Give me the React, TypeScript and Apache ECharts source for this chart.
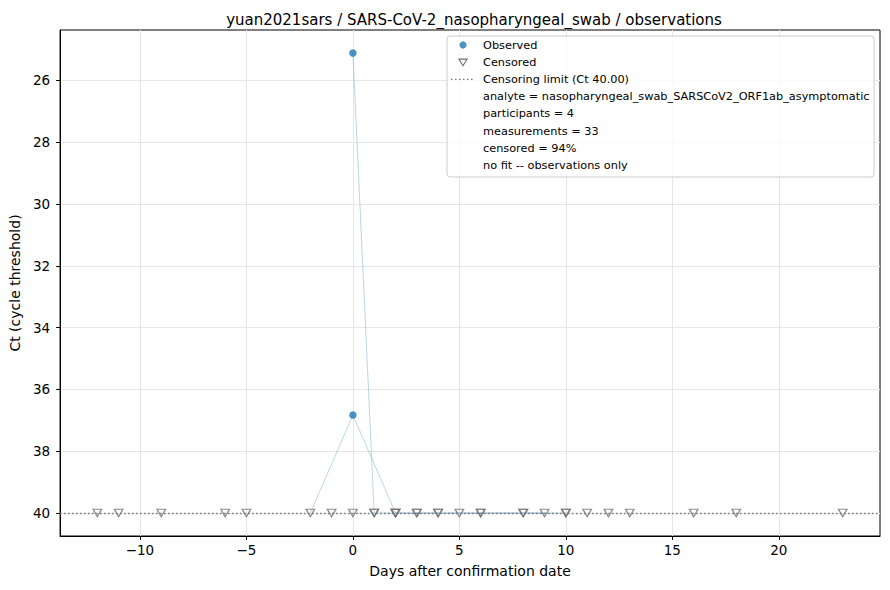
import React, { useEffect, useRef } from "react";
import * as echarts from "echarts";

// ---- data ----
const TITLE = "yuan2021sars / SARS-CoV-2_nasopharyngeal_swab / observations";
const X_LABEL = "Days after confirmation date";
const Y_LABEL = "Ct (cycle threshold)";
const CENSOR_LIMIT = 40;

// participants connected by lines (have at least one observed value)
const p1Days = [0, 1, 2, 4, 6, 8, 10];
const p1Ct = [25.11, 40, 40, 40, 40, 40, 40];
const p1Censored = [false, true, true, true, true, true, true];

const p2Days = [-2, 0, 2, 3, 5, 9];
const p2Ct = [40, 36.83, 40, 40, 40, 40];
const p2Censored = [true, false, true, true, true, true];

// participants with only censored measurements
const p3Days = [-12, -9, -5, -1, 0, 2, 4, 6, 11, 13, 18];
const p4Days = [-11, -6, 1, 3, 8, 10, 12, 16, 23];

const xTicks = [-10, -5, 0, 5, 10, 15, 20];
const yTicks = [26, 28, 30, 32, 34, 36, 38, 40];

const legendLines = [
  "Observed",
  "Censored",
  "Censoring limit (Ct 40.00)",
  "analyte = nasopharyngeal_swab_SARSCoV2_ORF1ab_asymptomatic",
  "participants = 4",
  "measurements = 33",
  "censored = 94%",
  "no fit -- observations only",
];

const FONT = "DejaVu Sans";
const BLUE = "#1f77b4";

export default function App() {
  const ref = useRef<HTMLDivElement>(null);

  useEffect(() => {
    if (!ref.current) return;
    const chart = echarts.init(ref.current, undefined, { renderer: "svg" });

    const lined = [
      { days: p1Days, ct: p1Ct, cens: p1Censored },
      { days: p2Days, ct: p2Ct, cens: p2Censored },
    ];
    const observed: number[][] = [];
    const censored: number[][] = [];
    lined.forEach((p) =>
      p.days.forEach((d, i) => {
        if (p.cens[i]) censored.push([d, p.ct[i]]);
        else observed.push([d, p.ct[i]]);
      })
    );
    [p3Days, p4Days].forEach((arr) => arr.forEach((d) => censored.push([d, CENSOR_LIMIT])));

    const allX = [...observed, ...censored].map((p) => p[0]);
    const allY = [...observed, ...censored].map((p) => p[1]);
    const xMinD = Math.min(...allX), xMaxD = Math.max(...allX);
    const yMinD = Math.min(...allY), yMaxD = Math.max(...allY);
    const xPad = (xMaxD - xMinD) * 0.05;
    const yPad = (yMaxD - yMinD) * 0.05;

    const gridLeft = 58, gridTop = 30, gridRight = 880, gridBottom = 536;

    const lineSeries = lined.map((p, k) => ({
      type: "line",
      name: "p" + (k + 1),
      data: p.days.map((d, i) => [d, p.ct[i]]),
      showSymbol: false,
      symbol: "none",
      lineStyle: { color: BLUE, opacity: 0.3, width: 1 },
      z: 2,
      silent: true,
    }));

    const lx = 447, ly = 36, rowH = 17.2;
    const legendGraphics: any[] = [
      {
        type: "rect",
        shape: { x: lx, y: ly, width: 427, height: 141, r: 3 },
        style: { fill: "rgba(255,255,255,0.8)", stroke: "#cccccc", lineWidth: 1 },
        z: 100,
      },
      {
        type: "circle",
        shape: { cx: 463, cy: ly + 9, r: 3.6 },
        style: { fill: BLUE, opacity: 0.8 },
        z: 101,
      },
      {
        type: "polygon",
        shape: { points: [[459, ly + 9 + rowH - 3], [467, ly + 9 + rowH - 3], [463, ly + 9 + rowH + 3.5]] },
        style: { fill: "none", stroke: "#707070", lineWidth: 1.2 },
        z: 101,
      },
      {
        type: "line",
        shape: { x1: 451, y1: ly + 9 + rowH * 2, x2: 475, y2: ly + 9 + rowH * 2 },
        style: { stroke: "#777777", lineWidth: 1.4, lineDash: [1.5, 2.5] },
        z: 101,
      },
      ...legendLines.map((t, i) => ({
        type: "text",
        x: 483,
        y: ly + 9 + rowH * i,
        style: {
          text: t,
          font: `11.3px "${FONT}"`,
          fill: "#000000",
          textVerticalAlign: "middle",
          verticalAlign: "middle",
        },
        z: 101,
      })),
    ];

    const option: any = {
      animation: false,
      backgroundColor: "#ffffff",
      textStyle: { fontFamily: FONT },
      title: {
        text: TITLE,
        left: (gridLeft + gridRight) / 2,
        top: 7,
        textAlign: "center",
        textStyle: { fontFamily: FONT, fontSize: 15, fontWeight: "normal", color: "#000" },
      },
      grid: {
        left: gridLeft,
        top: gridTop,
        width: gridRight - gridLeft,
        height: gridBottom - gridTop,
        show: true,
        borderColor: "#000",
        borderWidth: 1,
        backgroundColor: "transparent",
      },
      xAxis: {
        type: "value",
        min: xMinD - xPad,
        max: xMaxD + xPad,
        name: X_LABEL,
        nameLocation: "middle",
        nameGap: 28,
        nameTextStyle: { fontFamily: FONT, fontSize: 14, color: "#000" },
        axisLine: { show: true, onZero: false, lineStyle: { color: "#000", width: 1 } },
        axisTick: { show: true, length: 4, lineStyle: { color: "#000" }, customValues: xTicks },
        axisLabel: {
          fontFamily: FONT,
          fontSize: 13.5,
          color: "#000",
          margin: 7,
          customValues: xTicks,
          formatter: (v: number) => (v < 0 ? "\u2212" + Math.abs(v) : String(v)),
        },
        splitLine: { show: true, lineStyle: { color: "#e6e6e6", width: 1 } },
      },
      yAxis: {
        type: "value",
        inverse: true,
        min: yMinD - yPad,
        max: yMaxD + yPad,
        name: Y_LABEL,
        nameLocation: "middle",
        nameGap: 33,
        nameRotate: 90,
        nameTextStyle: { fontFamily: FONT, fontSize: 14, color: "#000" },
        axisLine: { show: true, onZero: false, lineStyle: { color: "#000", width: 1 } },
        axisTick: { show: true, length: 4, lineStyle: { color: "#000" }, customValues: yTicks },
        axisLabel: {
          fontFamily: FONT,
          fontSize: 13.5,
          color: "#000",
          margin: 10,
          customValues: yTicks,
        },
        splitLine: { show: true, lineStyle: { color: "#e6e6e6", width: 1 } },
      },
      series: [
        ...lineSeries,
        {
          type: "line",
          name: "limit",
          data: [],
          silent: true,
          markLine: {
            silent: true,
            symbol: ["none", "none"],
            label: { show: false },
            lineStyle: { color: "#777777", width: 1.4, type: [1.5, 2.5] },
            data: [{ yAxis: CENSOR_LIMIT }],
          },
          z: 3,
        },
        {
          type: "scatter",
          name: "Censored",
          data: censored,
          symbol: "triangle",
          symbolRotate: 180,
          symbolSize: [8.5, 7.5],
          itemStyle: { color: "rgba(255,255,255,0)", borderColor: "#707070", borderWidth: 1.3 },
          z: 4,
          silent: true,
        },
        {
          type: "scatter",
          name: "Observed",
          data: observed,
          symbol: "circle",
          symbolSize: 7.5,
          itemStyle: { color: BLUE, opacity: 0.8 },
          z: 5,
          silent: true,
        },
      ],
      graphic: legendGraphics,
    };

    chart.setOption(option);
    return () => chart.dispose();
  }, []);

  return (
    <div
      ref={ref}
      style={{ position: "fixed", left: 0, top: 0, width: 890, height: 590, background: "#fff" }}
    />
  );
}
